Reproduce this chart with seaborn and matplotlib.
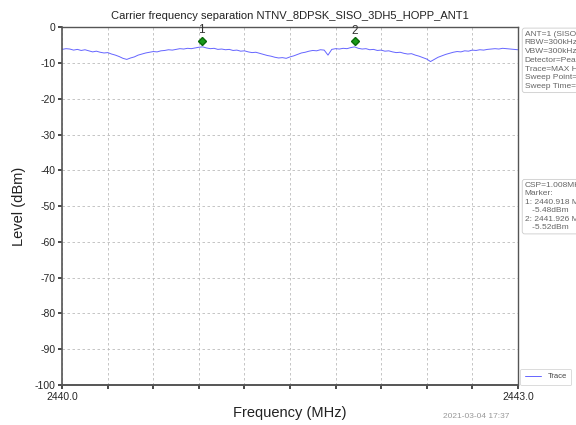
import numpy as np
import pandas as pd
import matplotlib
matplotlib.use("Agg")
import matplotlib.pyplot as plt
import matplotlib.transforms as mtransforms
import seaborn as sns

# ---- data ----
f_start, f_stop = 2440.0, 2443.0
level = [
    -6.2, -6.0, -6.1, -6.4, -6.2, -6.5, -6.3, -6.6, -6.9, -6.7,
    -7.0, -7.2, -7.1, -7.5, -7.8, -8.2, -8.7, -9.0, -8.6, -8.3,
    -7.8, -7.5, -7.2, -7.0, -6.8, -6.9, -6.6, -6.5, -6.3, -6.4,
    -6.2, -6.0, -6.1, -5.9, -6.0, -5.8, -5.6, -5.5, -5.8, -6.0,
    -5.9, -6.2, -6.1, -6.3, -6.2, -6.5, -6.4, -6.7, -6.6, -6.9,
    -7.1, -7.0, -7.3, -7.6, -7.9, -8.1, -8.4, -8.6, -8.5, -8.7,
    -8.3, -8.0, -7.6, -7.2, -7.0, -6.7, -6.5, -6.6, -6.3, -6.4,
    -7.8, -6.2, -6.0, -6.1, -5.9, -6.0, -5.7, -5.5, -5.9, -6.1,
    -6.0, -6.3, -6.2, -6.5, -6.4, -6.7, -6.6, -6.9, -7.1, -7.0,
    -7.3, -7.5, -7.4, -7.8, -8.1, -8.5, -8.9, -9.6, -9.0, -8.4,
    -8.0, -7.6, -7.3, -7.0, -6.8, -6.9, -6.6, -6.7, -6.4, -6.5,
    -6.3, -6.4, -6.2, -6.1, -6.0, -6.1, -5.9, -6.0, -6.1, -6.2,
    -6.3,
]
freq = np.linspace(f_start, f_stop, len(level))
marker_freq = [2440.918, 2441.926]
marker_level = [-5.48, -5.52]
marker_names = ["1", "2"]
x_ticks = [2440.0, 2440.3, 2440.6, 2440.9, 2441.2, 2441.5, 2441.8, 2442.1, 2442.4, 2442.7, 2443.0]
x_ticklabels = ["2440.0", "", "", "", "", "", "", "", "", "", "2443.0"]
y_ticks = [0, -10, -20, -30, -40, -50, -60, -70, -80, -90, -100]

info_lines = ["ANT=1 (SISO)", "RBW=300kHz", "VBW=300kHz", "Detector=Peak",
              "Trace=MAX Hold", "Sweep Point=1001", "Sweep Time=1ms"]
marker_lines = ["CSP=1.008MHz", "Marker:", "1: 2440.918 MHz", "   -5.48dBm",
                "2: 2441.926 MHz", "   -5.52dBm"]

df = pd.DataFrame({"Frequency": freq, "Level": level})

sns.set_theme(style="white")
plt.rcParams["font.family"] = ["Liberation Sans", "DejaVu Sans"]
plt.rcParams["axes.unicode_minus"] = False

fig = plt.figure(figsize=(5.76, 4.25), dpi=100)
ax = fig.add_axes([0.108, 0.094, 0.791, 0.842])

sns.lineplot(data=df, x="Frequency", y="Level", ax=ax, color="#4a4aff",
             linewidth=0.7, alpha=0.85, label="Trace")

off = mtransforms.offset_copy(ax.transData, fig=fig, x=0, y=4.5, units="points")
ax.plot(marker_freq, marker_level, linestyle="none", marker="D", markersize=4.5,
        color="#1a9a1a", markeredgecolor="#0a6a0a", transform=off, zorder=5)
off2 = mtransforms.offset_copy(ax.transData, fig=fig, x=0, y=7.5, units="points")
for f, l, n in zip(marker_freq, marker_level, marker_names):
    ax.text(f, l, n, transform=off2, ha="center", va="bottom", fontsize=8.5, color="#333333")

ax.set_xlim(f_start, f_stop)
ax.set_ylim(-100, 0)
ax.set_xticks(x_ticks)
ax.set_xticklabels(x_ticklabels)
ax.set_yticks(y_ticks)
ax.tick_params(axis="both", labelsize=7.5, length=3, direction="out", color="#333333",
               bottom=True, left=True, pad=2)
ax.grid(True, linestyle=(0, (3, 3)), color="#bbbbbb", linewidth=0.6)
for s in ax.spines.values():
    s.set_color("#555555")
    s.set_linewidth(1.0)
ax.spines["bottom"].set_linewidth(1.4)
ax.spines["left"].set_linewidth(1.2)

ax.set_title("Carrier frequency separation NTNV_8DPSK_SISO_3DH5_HOPP_ANT1",
             fontsize=8, color="#222222", pad=6)
ax.set_xlabel("Frequency (MHz)", fontsize=10.5, labelpad=3, color="#222222")
ax.set_ylabel("Level (dBm)", fontsize=10.5, labelpad=6, color="#222222")

leg = ax.legend(loc="lower left", bbox_to_anchor=(1.005, 0.0), fontsize=5.5,
                frameon=True, handlelength=2.2, borderaxespad=0.2)
leg.get_frame().set_edgecolor("#cccccc")
leg.get_frame().set_linewidth(0.6)
leg.get_frame().set_boxstyle("round,pad=0.2")
for t in leg.get_texts():
    t.set_color("#444444")

box = dict(boxstyle="round,pad=0.3", facecolor="white", edgecolor="#cccccc", linewidth=0.6)
fig.text(0.911, 0.928, "\n".join(info_lines), fontsize=6, color="#666666",
         va="top", ha="left", linespacing=1.35, bbox=box)
fig.text(0.911, 0.572, "\n".join(marker_lines), fontsize=6, color="#666666",
         va="top", ha="left", linespacing=1.3, bbox=box)

fig.text(0.885, 0.012, "2021-03-04 17:37", fontsize=6, color="#999999", ha="right", va="bottom")

fig.savefig("out.png", dpi=100)
